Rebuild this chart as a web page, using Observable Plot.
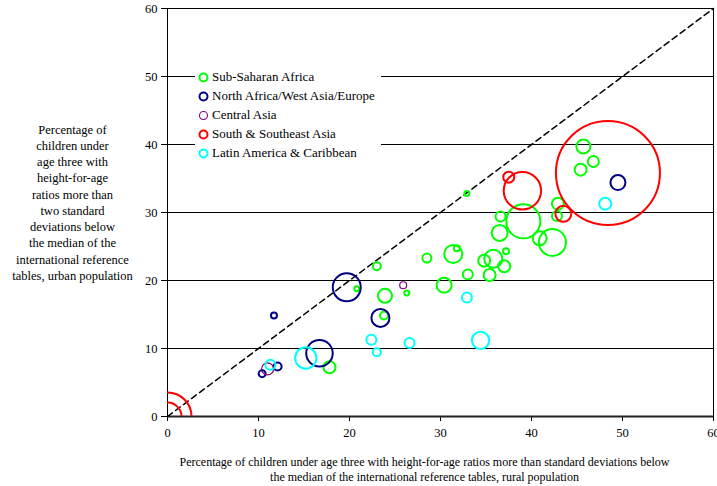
<!DOCTYPE html>
<html>
<head>
<meta charset="utf-8">
<script src="https://cdn.jsdelivr.net/npm/d3@7"></script>
<script src="https://cdn.jsdelivr.net/npm/@observablehq/plot@0.6"></script>
<style>
  html, body { margin: 0; padding: 0; background: white; overflow: hidden; }
  #wrap { position: relative; width: 717px; height: 486px; font-family: "Liberation Serif", "DejaVu Serif", serif; }
  #legend { position: absolute; left: 195px; top: 66px; width: 186px; height: 97px; background: white; }
  .item { position: absolute; left: 0; height: 19px; display: flex; align-items: center; font-size: 13px; color: #000; white-space: nowrap; font-family: "Liberation Serif", "DejaVu Serif", serif; }
  .item svg { margin-left: 3px; margin-right: 3px; }
</style>
</head>
<body>
<div id="wrap"></div>
<script>
// ---- Data ----
const regions = ["Sub-Saharan Africa", "North Africa/West Asia/Europe", "Central Asia", "South & Southeast Asia", "Latin America & Caribbean"];
const regionColors = ["#00ff00", "#000080", "#800080", "#ff0000", "#00ffff"];

// rural %, urban %, relative population weight
const ssaRural = [45.7, 46.8, 45.4, 42.9, 42.8, 32.9, 36.6, 39.1, 36.5, 40.9, 42.3, 37.2, 31.4, 31.8, 28.5, 23.0, 33.0, 34.8, 35.8, 37.0, 35.4, 30.4, 20.8, 23.9, 26.3, 23.8, 17.8];
const ssaUrban = [39.7, 37.5, 36.3, 31.3, 29.5, 32.8, 29.4, 28.7, 27.0, 26.2, 25.6, 24.3, 23.9, 24.75, 23.3, 22.1, 20.9, 22.9, 23.2, 22.1, 20.8, 19.3, 18.8, 17.75, 18.15, 14.85, 7.25];
const ssaPop   = [1.81, 1.12, 1.33, 1.33, 0.92, 0.23, 0.92, 10.7, 2.37, 1.81, 6.74, 0.33, 3.0, 0.33, 0.75, 0.59, 0.92, 1.33, 3.0, 1.33, 1.33, 2.08, 0.23, 1.81, 0.23, 0.59, 1.33];

const nawRural = [49.5, 19.7, 23.4, 16.7, 11.7, 12.1, 10.4];
const nawUrban = [34.4, 19.0, 14.5, 9.3, 14.85, 7.35, 6.3];
const nawPop   = [2.08, 7.25, 3.0, 6.5, 0.33, 0.59, 0.45];

const caRural = [25.9, 11.0];
const caUrban = [19.3, 7.0];
const caPop   = [0.45, 1.33];

const ssaaRural = [48.4, 39.0, 37.5, 43.5, 0, 0];
const ssaaUrban = [35.8, 33.2, 35.2, 29.8, 0, 0];
const ssaaPop   = [100, 12.9, 1.12, 2.37, 21.3, 7.25];

const lacRural = [48.1, 32.9, 34.4, 22.4, 23.0, 26.6, 15.2, 11.3];
const lacUrban = [31.3, 17.5, 11.2, 11.3, 9.45, 10.8, 8.6, 7.6];
const lacPop   = [1.33, 0.92, 2.8, 0.92, 0.59, 0.92, 4.2, 0.92];

const axisTicks = [0, 10, 20, 30, 40, 50, 60];
const gridTicks = [10, 20, 30, 40, 50];
const diagonal = [0, 60];

const yTitle = "Percentage of\nchildren under\nage three with\nheight-for-age\nratios more than\ntwo standard\ndeviations below\nthe median of the\ninternational reference\ntables, urban population";
const xTitle = "Percentage of children under age three with height-for-age ratios more than standard deviations below\nthe median of the international reference tables, rural population";

// ---- Build table ----
const series = [
  [ssaRural, ssaUrban, ssaPop],
  [nawRural, nawUrban, nawPop],
  [caRural, caUrban, caPop],
  [ssaaRural, ssaaUrban, ssaaPop],
  [lacRural, lacUrban, lacPop]
];
const points = [];
series.forEach(([xs, ys, ps], i) => {
  xs.forEach((x, j) => points.push({region: regions[i], rural: x, urban: ys[j], pop: ps[j]}));
});

const FONT = "'Liberation Serif', 'DejaVu Serif', serif";

const chart = Plot.plot({
  width: 717,
  height: 486,
  marginLeft: 167,
  marginRight: 4,
  marginTop: 8,
  marginBottom: 70,
  style: {fontFamily: FONT, fontSize: "12.5px", color: "#000", background: "white"},
  x: {domain: [0, 60]},
  y: {domain: [0, 60]},
  r: {type: "sqrt", domain: [0, 100], range: [0, 52]},
  color: {domain: regions, range: regionColors},
  marks: [
    Plot.ruleY(gridTicks, {stroke: "#000", strokeWidth: 1}),
    Plot.ruleY([60], {stroke: "#000", strokeWidth: 1}),
    Plot.ruleX([60], {stroke: "#000", strokeWidth: 1}),
    Plot.axisX({ticks: axisTicks, tickSize: 5, tickPadding: 7, label: null, stroke: "#000", fontFamily: FONT}),
    Plot.axisY({ticks: axisTicks, tickSize: 6, tickPadding: 4, label: null, stroke: "#000", fontFamily: FONT}),
    Plot.ruleX([0], {stroke: "#000", strokeWidth: 1}),
    Plot.ruleY([0], {stroke: "#222", strokeWidth: 2}),
    Plot.line(diagonal, {x: d => d, y: d => d, stroke: "#000", strokeWidth: 1.5, strokeDasharray: "6,4"}),
    Plot.dot(points, {
      x: "rural", y: "urban", r: "pop", stroke: "region",
      strokeWidth: d => d.region === "Central Asia" ? 1.2 : 2,
      fill: "none", sort: null, clip: true
    }),
    Plot.text([yTitle], {frameAnchor: "left", dx: -95, dy: -11, textAnchor: "middle", lineAnchor: "middle", lineHeight: 1.3, fontSize: 12.5, fontFamily: FONT}),
    Plot.text([xTitle], {frameAnchor: "bottom", dx: -16, dy: 38, textAnchor: "middle", lineAnchor: "top", lineHeight: 1.3, fontSize: 12, fontFamily: FONT})
  ]
});

const wrap = document.getElementById("wrap");
wrap.appendChild(chart);

// Legend
const legend = document.createElement("div");
legend.id = "legend";
regions.forEach((name, i) => {
  const item = document.createElement("div");
  item.className = "item";
  item.style.top = (1.5 + i * 19) + "px";
  const sw = name === "Central Asia" ? 1.1 : 2;
  item.innerHTML = `<svg width="11" height="11"><circle cx="5.5" cy="5.5" r="4" fill="none" stroke="${regionColors[i]}" stroke-width="${sw}"></circle></svg><span>${name}</span>`;
  legend.appendChild(item);
});
wrap.appendChild(legend);
</script>
</body>
</html>
